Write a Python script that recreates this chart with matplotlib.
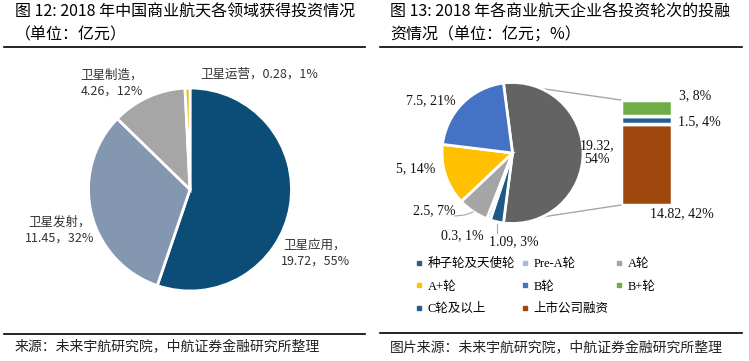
import matplotlib.pyplot as plt
from matplotlib.lines import Line2D
from matplotlib.patches import ConnectionPatch
import numpy as np

W, H = 749, 361
CJK = ['Noto Sans CJK SC', 'DejaVu Sans']
SERIF = ['Liberation Serif', 'Noto Sans CJK SC']

# left chart: 2018 investment by field (亿元)
field_names = ['卫星应用', '卫星发射', '卫星制造', '卫星运营']
field_values = [19.72, 11.45, 4.26, 0.28]
field_colors = ['#0c4d78', '#8497b0', '#a6a6a6', '#f5b800']

# right chart: investment by round (亿元)
pie_names = ['其他', '种子轮及天使轮', 'Pre-A轮', 'A轮', 'A+轮', 'B轮']
pie_values = [19.32, 1.09, 0.3, 2.5, 5, 7.5]
pie_colors = ['#636363', '#1d5a84', '#b4c7de', '#a5a5a5', '#ffc000', '#4472c4']

bar_names = ['上市公司融资', 'C轮及以上', 'B+轮']
bar_values = [14.82, 1.5, 3]
bar_colors = ['#9e480e', '#255e91', '#70ad47']

legend_names = ['种子轮及天使轮', 'Pre-A轮', 'A轮', 'A+轮', 'B轮', 'B+轮', 'C轮及以上', '上市公司融资']
legend_colors = ['#2e5f7a', '#a9bcd6', '#a5a5a5', '#ffc000', '#4472c4', '#70ad47', '#255e91', '#9e480e']


def px_axes(fig, cx, cy, r, pad=1.25):
    # square axes centred on pixel (cx, cy) measured from the top
    s = r * pad
    return fig.add_axes([(cx - s) / W, (H - cy - s) / H, 2 * s / W, 2 * s / H])


def ftext(fig, x, y, s, **kw):
    fig.text(x / W, 1 - y / H, s, **kw)


def hline(fig, x0, x1, y):
    fig.add_artist(Line2D([x0 / W, x1 / W], [1 - y / H, 1 - y / H], color='black', lw=1.2))


fig = plt.figure(figsize=(W / 100, H / 100), dpi=100)

# ---- titles, rules and sources ----
tt = dict(family=CJK, fontsize=11.5, va='center', weight='medium')
ftext(fig, 15, 12, '图 12: 2018 年中国商业航天各领域获得投资情况', **tt)
ftext(fig, 15, 35, '（单位：亿元）', **tt)
ftext(fig, 390, 12, '图 13: 2018 年各商业航天企业各投资轮次的投融', **tt)
ftext(fig, 390, 35, '资情况（单位：亿元；%）', **tt)
hline(fig, 4, 365, 47)
hline(fig, 380, 742, 47)
hline(fig, 4, 365, 334)
hline(fig, 380, 742, 333)
st = dict(family=CJK, fontsize=10, va='center', style='italic', color='#222222')
ftext(fig, 15, 347, '来源：未来宇航研究院，中航证券金融研究所整理', **st)
ftext(fig, 390, 348, '图片来源：未来宇航研究院，中航证券金融研究所整理', **st)

# ---- left pie ----
ax1 = px_axes(fig, 190, 189.5, 101.5)
ax1.pie(field_values, colors=field_colors, startangle=90, counterclock=False,
        wedgeprops=dict(edgecolor='white', linewidth=2))
ax1.set_xlim(-1.25, 1.25)
ax1.set_ylim(-1.25, 1.25)
ax1.axis('off')

tot = sum(field_values)
pcts = [round(v / tot * 100) for v in field_values]
lab_pos = [(315, 253), (60, 230), (112, 83), (259, 74)]
for i, (x, y) in enumerate(lab_pos):
    if i == 3:
        s = f'{field_names[i]}，{field_values[i]}，{pcts[i]}%'
    else:
        s = f'{field_names[i]}，\n{field_values[i]}，{pcts[i]}%'
    ftext(fig, x, y, s, family=CJK, fontsize=9, ha='center', va='center',
          color='#333333', linespacing=1.35)

# ---- right pie of bar ----
ax2 = px_axes(fig, 512.5, 153, 70.5)
start = pie_values[0] / sum(pie_values) * 360 / 2
wedges, _ = ax2.pie(pie_values, colors=pie_colors, startangle=start, counterclock=False,
                    wedgeprops=dict(edgecolor='white', linewidth=2))
ax2.set_xlim(-1.25, 1.25)
ax2.set_ylim(-1.25, 1.25)
ax2.axis('off')

# stacked bar for the split of the grey slice
ax3 = fig.add_axes([621 / W, (H - 205) / H, 51 / W, 105 / H])
bottom = 0
for v, c in zip(bar_values, bar_colors):
    ax3.bar(0, v, bottom=bottom, width=1, color=c, edgecolor='white', linewidth=2.5)
    bottom += v
ax3.set_xlim(-0.5, 0.5)
ax3.set_ylim(0, sum(bar_values))
ax3.axis('off')

# connector lines from the grey slice to the bar (drawn behind the pie)
g = wedges[0]
for ang, yb in [(g.theta2, sum(bar_values)), (g.theta1, 0)]:
    p = (np.cos(np.radians(ang)), np.sin(np.radians(ang)))
    con = ConnectionPatch(xyA=p, coordsA=ax2.transData, xyB=(-0.5, yb), coordsB=ax3.transData,
                          color='#a6a6a6', lw=1, zorder=0)
    ax2.add_artist(con)

grand = sum(pie_values)


def lab(v):
    return f'{v:g}, {round(v / grand * 100)}%'


tk = dict(family=SERIF, fontsize=10, ha='center', va='center', color='#111111')
ftext(fig, 597, 153, f'{pie_values[0]:g},\n{round(pie_values[0] / grand * 100)}%', linespacing=1.1, **tk)
ftext(fig, 462, 236, lab(pie_values[2]), **tk)
ftext(fig, 514, 242, lab(pie_values[1]), **tk)
ftext(fig, 434, 211, lab(pie_values[3]), **tk)
ftext(fig, 416, 169, lab(pie_values[4]), **tk)
ftext(fig, 431, 101, lab(pie_values[5]), **tk)
ftext(fig, 682, 214, lab(bar_values[0]), **tk)
ftext(fig, 699, 122, lab(bar_values[1]), **tk)
ftext(fig, 695, 96, lab(bar_values[2]), **tk)

# leader lines
fig.add_artist(Line2D([455 / W, 465 / W, 473 / W], [1 - 216 / H, 1 - 215 / H, 1 - 212 / H],
                      color='#a6a6a6', lw=0.8))
fig.add_artist(Line2D([497 / W, 497 / W], [1 - 224 / H, 1 - 233 / H], color='#a6a6a6', lw=0.8))

# legend, filled row by row
handles = [Line2D([], [], marker='s', ls='', markersize=2.5, color=c) for c in legend_colors]
order = [0, 3, 6, 1, 4, 7, 2, 5]
fig.legend([handles[i] for i in order], [legend_names[i] for i in order], ncol=3,
           loc='upper left', bbox_to_anchor=(415 / W, 1 - 258 / H), frameon=False,
           prop=dict(family=SERIF, size=9), handlelength=0.6, handletextpad=0.4,
           columnspacing=0.5, labelspacing=0.85, borderaxespad=0, borderpad=0)

fig.savefig('out.png', dpi=100)
